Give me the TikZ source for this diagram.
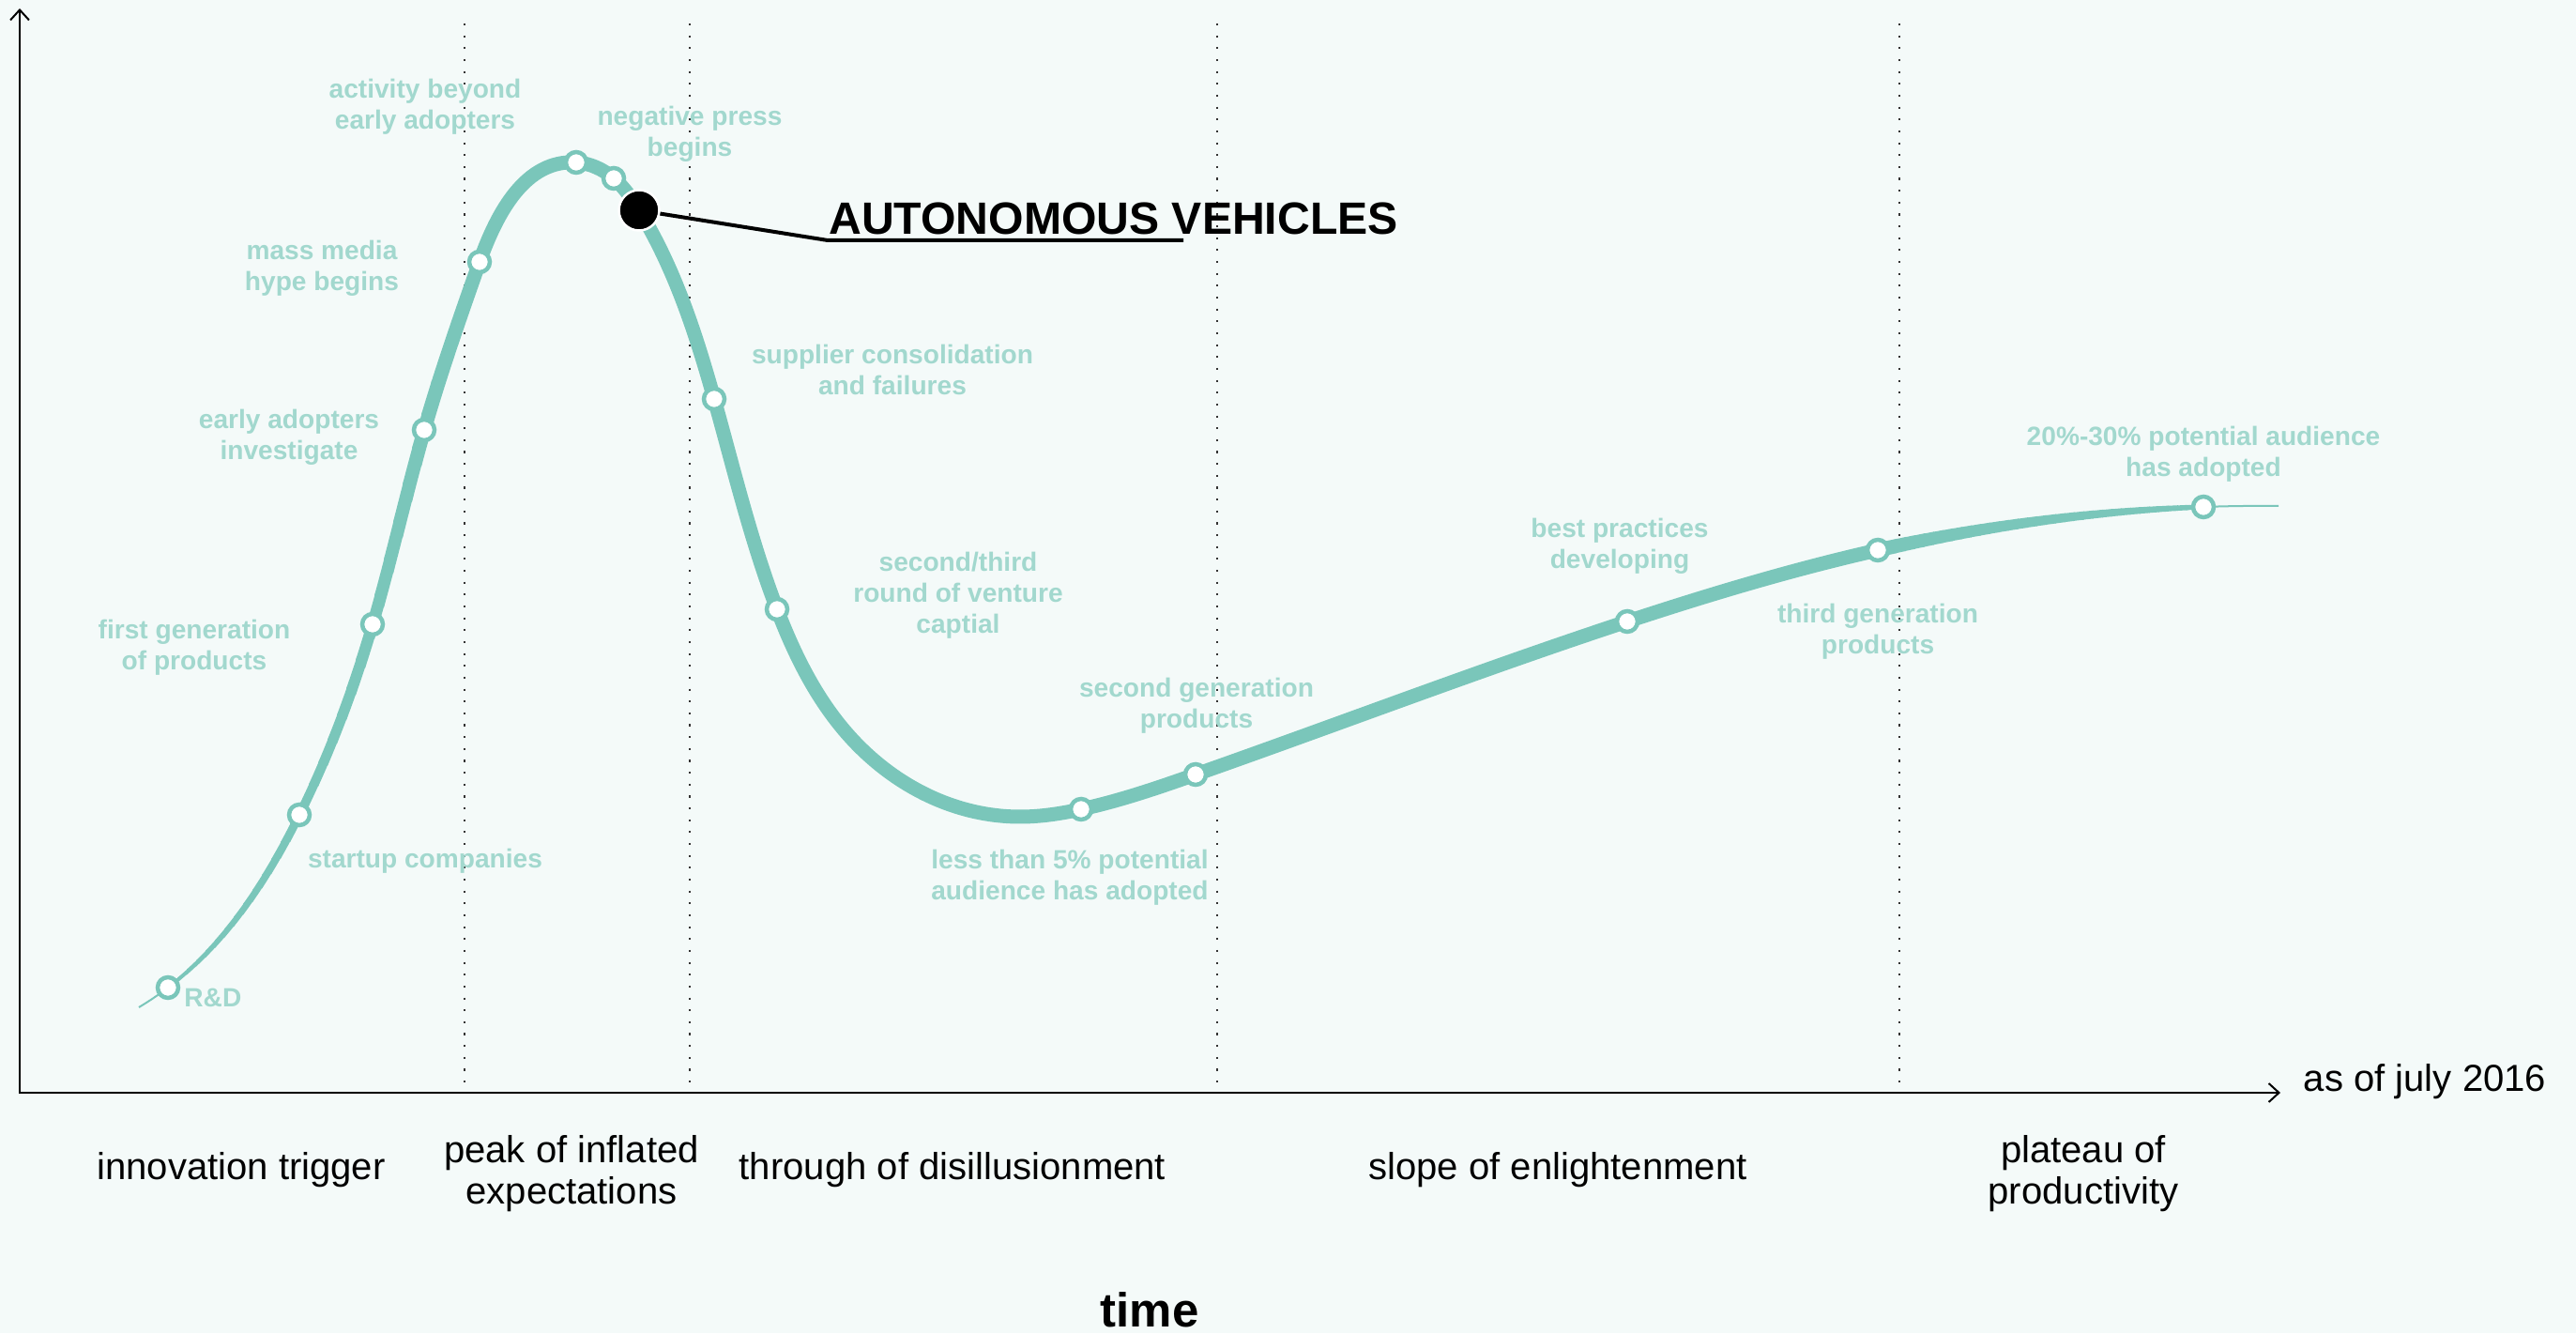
\documentclass[tikz,border=0pt]{standalone}
\usepackage{fontspec}
\setmainfont{Liberation Sans}
\usetikzlibrary{hobby,arrows.meta}
\definecolor{bgmint}{RGB}{244,250,249}
\definecolor{hypeteal}{RGB}{122,198,186}
\definecolor{noteteal}{RGB}{162,216,206}
\begin{document}
\begin{tikzpicture}[thick, >={Straight Barb[length=0.11cm,width=0.2cm]},
    milestone/.style={circle,draw=hypeteal,fill=white,line width=0.045cm,minimum size=0.22cm,inner sep=0},
    hype dot/.style={circle,fill=black,draw=white,line width=0.025cm,minimum size=0.43cm,inner sep=0},
    note/.style={text=noteteal,font=\bfseries\fontsize{8}{9.4}\selectfont,align=center,inner sep=0},
    phase/.style={font=\fontsize{11.4}{12.5}\selectfont,align=center,inner sep=0},
    divider/.style={line width=0.7pt,dash pattern=on 0.6pt off 3pt,black!80},
    hype line/.style={draw=hypeteal,line join=round,use Hobby shortcut}]
        \useasboundingbox (0,0) rectangle (27.45,14.2);
        \fill[bgmint] (0,0) rectangle (27.45,14.2);

        \coordinate (origin) at (0.21, 2.56);
        \coordinate (ytop) at (0.21, 14.11);
        \coordinate (xend) at (24.30, 2.56);
        \draw[<->, line width=0.02cm] (ytop) -- (origin) -- (xend);

        \foreach \x in {4.95, 7.35, 12.97, 20.24}
            \draw[divider] (\x, 13.95) -- (\x, 2.61);

        \coordinate (k0) at (1.48, 3.47);
        \coordinate (k1) at (1.79, 3.68);
        \coordinate (k3) at (3.19, 5.52);
        \coordinate (k5) at (3.97, 7.55);
        \coordinate (k6) at (4.52, 9.62);
        \coordinate (k7) at (5.11, 11.41);
        \coordinate (k9) at (6.14, 12.47);
        \coordinate (k10) at (6.54, 12.30);
        \coordinate (k11) at (6.81, 11.96);
        \coordinate (k13) at (7.61, 9.95);
        \coordinate (k14) at (8.28, 7.71);
        \coordinate (k15) at (9.04, 6.37);
        \coordinate (k17) at (10.85, 5.50);
        \coordinate (k18) at (11.52, 5.58);
        \coordinate (k19) at (12.74, 5.95);
        \coordinate (k20) at (17.34, 7.58);
        \coordinate (k21) at (20.01, 8.34);
        \coordinate (k22) at (23.48, 8.80);
        \coordinate (k23) at (24.28, 8.81);

        \def\hype{(k0) .. (k1) .. (k3) .. (k5) .. (k6) .. (k7) .. (k9) .. (k10) .. (k11) .. (k13) .. (k14) .. (k15) .. (k17) .. (k18) .. (k19) .. (k20) .. (k21) .. (k22) .. (k23)}

        \draw[hype line, line width=0.02cm] \hype;
        \foreach \i in {0,...,27}
        {
            \pgfmathsetmacro\xa{1.79+0.1*\i}
            \pgfmathsetmacro\w{0.035+0.115*\i/27}
            \begin{scope}
                \clip (\xa, 0) rectangle (\xa+0.11, 14.2);
                \draw[hype line, line width=\w cm] \hype;
            \end{scope}
        }
        \begin{scope}
            \clip (4.59, 0) rectangle (20.11, 14.2);
            \draw[hype line, line width=0.15cm] \hype;
        \end{scope}
        \foreach \i in {0,...,33}
        {
            \pgfmathsetmacro\xa{20.1+0.1*\i}
            \pgfmathsetmacro\w{0.15-0.10*\i/33}
            \begin{scope}
                \clip (\xa, 0) rectangle (\xa+0.11, 14.2);
                \draw[hype line, line width=\w cm] \hype;
            \end{scope}
        }

        \node[milestone] at (k1) (rd) {};
        \node[milestone] at (k3) (startup) {};
        \node[milestone] at (k5) (firstgen) {};
        \node[milestone] at (k6) (early) {};
        \node[milestone] at (k7) (media) {};
        \node[milestone] at (k9) (beyond) {};
        \node[milestone] at (k10) (press) {};
        \node[milestone] at (k13) (supplier) {};
        \node[milestone] at (k14) (venture) {};
        \node[milestone] at (k18) (lessfive) {};
        \node[milestone] at (k19) (secondgen) {};
        \node[milestone] at (k20) (practices) {};
        \node[milestone] at (k21) (thirdgen) {};
        \node[milestone] at (k22) (plateau) {};

        \coordinate (bend) at (8.82, 11.64);
        \coordinate (ulend) at (12.61, 11.64);
        \node[hype dot] at (k11) (av) {};
        \draw[line width=0.04cm] (av) -- (bend) -- (ulend);
        \node[anchor=base west, inner sep=0, font=\bfseries\fontsize{13.7}{16}\selectfont] at (8.82, 11.70) (avtext) {AUTONOMOUS VEHICLES};

        \node[note] at (4.53, 13.06) (beyondtext) {activity beyond\\early adopters};
        \node[note] at (7.35, 12.77) (presstext) {negative press\\begins};
        \node[note] at (3.43, 11.34) (mediatext) {mass media\\hype begins};
        \node[note] at (3.08, 9.54) (earlytext) {early adopters\\investigate};
        \node[note] at (2.07, 7.30) (firstgentext) {first generation\\of products};
        \node[note] at (4.53, 5.03) (startuptext) {startup companies};
        \node[note, anchor=west] at (1.95, 3.57) (rdtext) {R\&D};
        \node[note] at (9.51, 10.26) (suppliertext) {supplier consolidation\\and failures};
        \node[note] at (10.21, 7.86) (venturetext) {second/third\\round of venture\\captial};
        \node[note] at (12.75, 6.68) (secondgentext) {second generation\\products};
        \node[note] at (11.40, 4.85) (lessfivetext) {less than 5\% potential\\audience has adopted};
        \node[note] at (17.26, 8.38) (practicestext) {best practices\\developing};
        \node[note] at (20.01, 7.47) (thirdgentext) {third generation\\products};
        \node[note] at (23.48, 9.36) (plateautext) {20\%-30\% potential audience\\has adopted};

        \node[phase] at (2.57, 1.74) (trigger) {innovation trigger};
        \node[phase] at (6.09, 1.70) (peak) {peak of inflated\\expectations};
        \node[phase] at (10.15, 1.74) (trough) {through of disillusionment};
        \node[phase] at (16.60, 1.74) (slope) {slope of enlightenment};
        \node[phase] at (22.20, 1.70) (productivity) {plateau of\\productivity};
        \node[phase] at (25.84, 2.68) (asof) {as of july 2016};
        \node[phase, font=\bfseries\fontsize{14.5}{16}\selectfont] at (12.25, 0.25) (time) {time};
\end{tikzpicture}
\end{document}
